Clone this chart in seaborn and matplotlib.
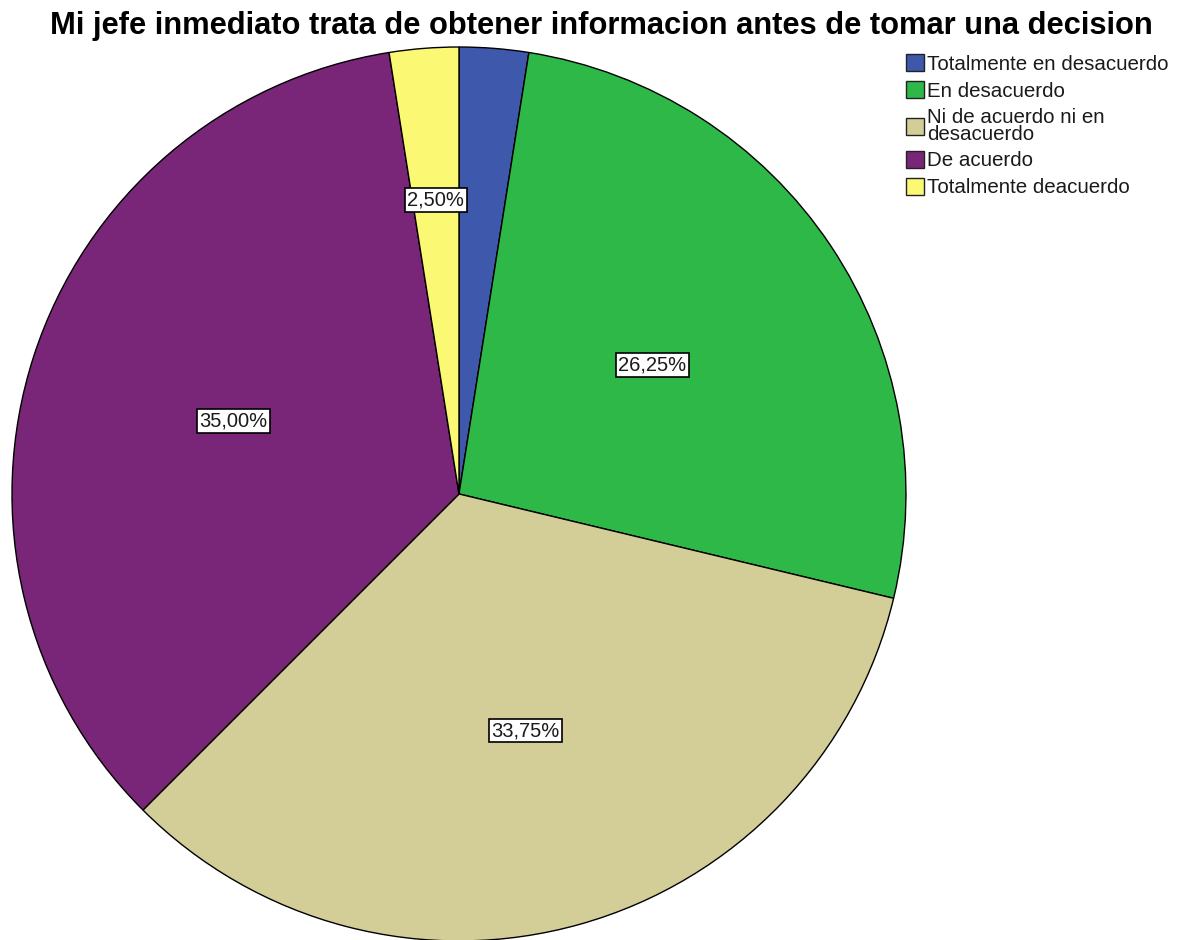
import numpy as np
import matplotlib
matplotlib.use("Agg")
import matplotlib.pyplot as plt
import seaborn as sns

sns.set_theme(style="white")
plt.rcParams["font.family"] = ["Liberation Sans", "DejaVu Sans"]

title = "Mi jefe inmediato trata de obtener informacion antes de tomar una decision"
categories = [
    "Totalmente en desacuerdo",
    "En desacuerdo",
    "Ni de acuerdo ni en\ndesacuerdo",
    "De acuerdo",
    "Totalmente deacuerdo",
]
percentages = [2.50, 26.25, 33.75, 35.00, 2.50]
label_text = ["", "26,25%", "33,75%", "35,00%", "2,50%"]
colors = sns.color_palette(["#3E58AC", "#2EB848", "#D3CE97", "#7A2678", "#FBF873"])

fig = plt.figure(figsize=(11.88, 9.40), dpi=100)
ax = fig.add_axes([0.0101, -0.001, 0.7525, 0.951])

wedges, _ = ax.pie(
    percentages,
    colors=colors,
    startangle=90,
    counterclock=False,
    radius=1.0,
    wedgeprops=dict(edgecolor="black", linewidth=1.0),
)
ax.set_xlim(-1, 1)
ax.set_ylim(-1, 1)
ax.set_aspect("auto")

# place value boxes along each wedge's bisector
label_radius = [0.55, 0.52, 0.55, 0.53, 0.66]
for w, txt, r in zip(wedges, label_text, label_radius):
    if not txt:
        continue
    mid = np.deg2rad((w.theta1 + w.theta2) / 2)
    x, y = r * np.cos(mid), r * np.sin(mid)
    ax.text(x, y, txt, ha="center", va="center", fontsize=14.5, color="#1a1a1a",
            bbox=dict(boxstyle="square,pad=0.12", facecolor="white",
                      edgecolor="black", linewidth=1.2))

fig.suptitle(title, x=0.506, y=0.988, ha="center", va="top",
             fontsize=22.2, fontweight="bold", color="black")

leg = fig.legend(wedges, categories, loc="upper left",
                 bbox_to_anchor=(0.7555, 0.951), frameon=False,
                 fontsize=14.8, handlelength=0.9, handleheight=0.9,
                 handletextpad=0.15, labelspacing=0.35, borderaxespad=0)
for h in leg.legend_handles:
    h.set_edgecolor("#222222")
    h.set_linewidth(1.0)
for t in leg.get_texts():
    t.set_color("#1a1a1a")
    t.set_linespacing(0.85)

fig.savefig("out.png", dpi=100, facecolor="white")
